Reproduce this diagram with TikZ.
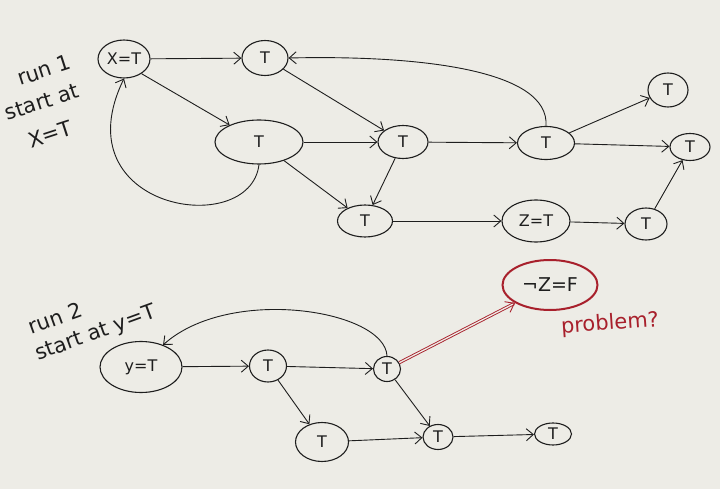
\documentclass[tikz,border=0pt]{standalone}
\usepackage{fontspec}
\setmainfont{DejaVu Sans}
\usetikzlibrary{shapes.geometric,arrows.meta}
\definecolor{bg}{HTML}{EDECE6}
\definecolor{ink}{HTML}{1E1E1E}
\definecolor{redpen}{HTML}{A8202C}
\begin{document}
\begin{tikzpicture}[x=1pt,y=-1pt,
  st/.style={ellipse, draw=ink, line width=1.1pt, inner sep=0pt, text=ink,
             font=\fontsize{16}{16}\selectfont},
  redst/.style={st, draw=redpen, line width=2pt, font=\fontsize{19}{19}\selectfont},
  arr/.style={draw=ink, line width=0.9pt, -{Straight Barb[length=7pt,width=12pt]}},
  redarr/.style={draw=redpen, line width=0.9pt, double=bg, double distance=1.3pt,
                 -{Straight Barb[length=8pt,width=12pt]}},
  lab/.style={text=ink, font=\fontsize{21}{21}\selectfont, inner sep=0pt},
  redlab/.style={text=redpen, font=\fontsize{21}{21}\selectfont, inner sep=0pt}]
\fill[bg] (0,0) rectangle (720,489);
\useasboundingbox (0,0) rectangle (720,489);
% run 1
\node[lab, rotate=18] (l1a) at (44,70) {run 1};
\node[lab, rotate=18] (l1b) at (42,102) {start at};
\node[lab, rotate=18] (l1c) at (50,134) {X=T};
\node[st, minimum width=52pt, minimum height=38pt] (x) at (124,59) {X=T};
\node[st, minimum width=46pt, minimum height=35pt] (t1) at (265,58) {T};
\node[st, minimum width=88pt, minimum height=44pt] (t2) at (259,142) {T};
\node[st, minimum width=50pt, minimum height=33pt] (t3) at (403,142) {T};
\node[st, minimum width=57pt, minimum height=33pt] (t4) at (546,143) {T};
\node[st, minimum width=40pt, minimum height=34pt] (t5) at (668,90) {T};
\node[st, minimum width=40pt, minimum height=27pt] (t6) at (690,147) {T};
\node[st, minimum width=55pt, minimum height=32pt] (t7) at (365,221) {T};
\node[st, minimum width=68pt, minimum height=42pt] (z) at (536,221) {Z=T};
\node[st, minimum width=42pt, minimum height=32pt] (t8) at (646,224) {T};
\draw[arr] (x) -- (t1);
\draw[arr] (x.-40) -- (t2.150);
\draw[arr] (t2.south) .. controls (250,240) and (60,210) .. (x.south);
\draw[arr] (t1) -- (t3);
\draw[arr] (t2) -- (t3);
\draw[arr] (t2) -- (t7);
\draw[arr] (t3) -- (t7);
\draw[arr] (t3) -- (t4);
\draw[arr] (t4.north) .. controls (550,70) and (420,55) .. (t1.east);
\draw[arr] (t4) -- (t5);
\draw[arr] (t4) -- (t6);
\draw[arr] (t7) -- (z);
\draw[arr] (z) -- (t8);
\draw[arr] (t8) -- (t6);
% run 2
\node[lab, rotate=20] (l2a) at (55,318) {run 2};
\node[lab, rotate=20] (l2b) at (96,334) {start at y=T};
\node[st, minimum width=82pt, minimum height=51pt] (y) at (141,367) {y=T};
\node[st, minimum width=37pt, minimum height=32pt] (t9) at (268,366) {T};
\node[st, minimum width=27pt, minimum height=25pt] (t10) at (387,369) {T};
\node[st, minimum width=53pt, minimum height=39pt] (t11) at (322,442) {T};
\node[st, minimum width=30pt, minimum height=25pt] (t12) at (438,437) {T};
\node[st, minimum width=37pt, minimum height=22pt] (t13) at (553,434) {T};
\node[redst, minimum width=95pt, minimum height=50pt] (nz) at (550,285) {¬Z=F};
\node[redlab, rotate=4] (prob) at (610,324) {problem?};
\draw[arr] (y) -- (t9);
\draw[arr] (t9) -- (t10);
\draw[arr] (t10.north) .. controls (385,310) and (230,285) .. (y.45);
\draw[arr] (t9) -- (t11);
\draw[arr] (t10) -- (t12);
\draw[arr] (t11) -- (t12);
\draw[arr] (t12) -- (t13);
\draw[redarr] (t10) -- (nz);
\end{tikzpicture}
\end{document}
